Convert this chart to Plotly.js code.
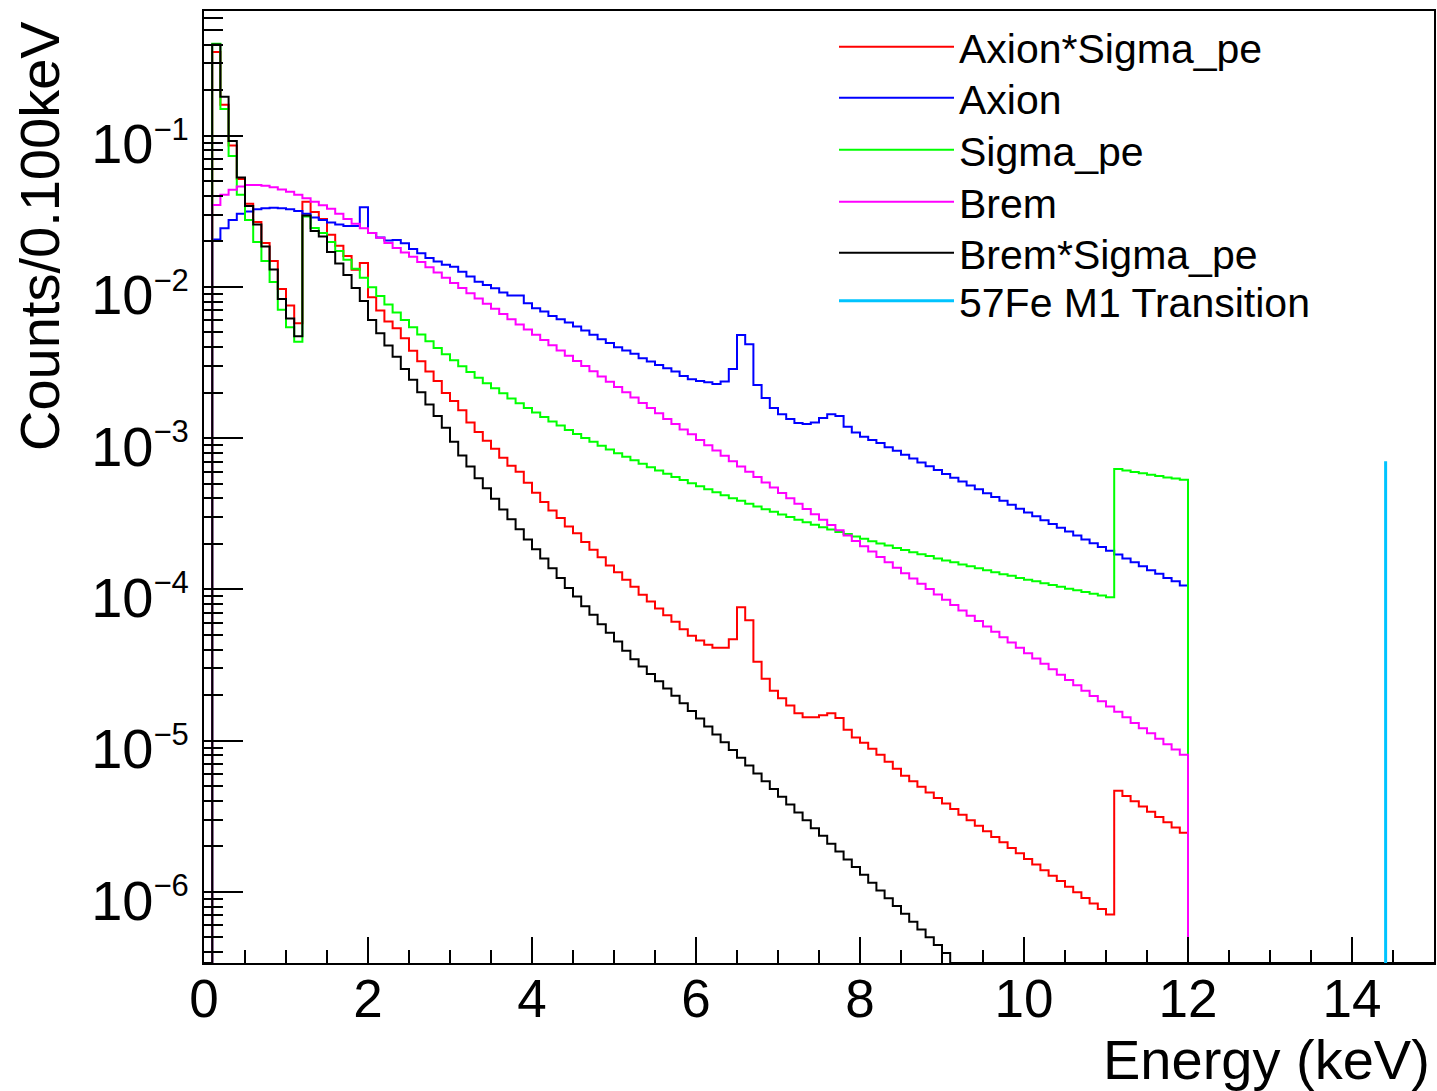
<!DOCTYPE html>
<html>
<head>
<meta charset="utf-8">
<script src="https://cdn.plot.ly/plotly-3.0.1.min.js"></script>
<style>
html,body{margin:0;padding:0;background:#ffffff;}
#chart{width:1437px;height:1091px;}
</style>
</head>
<body>
<div id="chart"></div>
<script>
// ---------------- DATA (counts per 0.1 keV bin, bins start at 0.0 keV) ----------------
const binWidthKeV = 0.1;
const nBins = 150;

const axionSigmaPe = [
 0,
 0.357, 0.160, 0.0861, 0.0517, 0.0354, 0.0269, 0.01953, 0.01485, 9.70e-3, 7.52e-3, 5.76e-3,
 3.65e-2, 3.13e-2, 2.81e-2, 2.21e-2, 1.87e-2, 1.60e-2, 1.30e-2, 1.44e-2,
 8.55e-3, 6.97e-3, 5.90e-3, 5.33e-3, 4.58e-3, 3.78e-3, 3.22e-3, 2.76e-3, 2.39e-3, 1.99e-3,
 1.76e-3, 1.53e-3, 1.27e-3, 1.10e-3, 9.60e-4, 8.50e-4, 7.41e-4, 6.56e-4, 5.99e-4, 5.07e-4,
 4.35e-4, 3.79e-4, 3.33e-4, 2.96e-4, 2.61e-4, 2.35e-4, 2.06e-4, 1.83e-4, 1.63e-4, 1.44e-4,
 1.30e-4, 1.16e-4, 1.04e-4, 9.21e-5, 8.32e-5, 7.47e-5, 6.75e-5, 6.11e-5, 5.45e-5, 4.94e-5,
 4.60e-5, 4.30e-5, 4.11e-5, 4.11e-5, 4.68e-5, 7.62e-5, 6.25e-5, 3.32e-5, 2.57e-5, 2.14e-5,
 1.91e-5, 1.71e-5, 1.52e-5, 1.43e-5, 1.43e-5, 1.47e-5, 1.52e-5, 1.41e-5, 1.18e-5, 1.05e-5,
 9.69e-6, 8.84e-6, 8.07e-6, 7.25e-6, 6.52e-6, 5.86e-6, 5.39e-6, 4.95e-6, 4.55e-6, 4.18e-6,
 3.84e-6, 3.53e-6, 3.24e-6, 2.98e-6, 2.74e-6, 2.52e-6, 2.31e-6, 2.13e-6, 1.95e-6, 1.80e-6,
 1.65e-6, 1.52e-6, 1.39e-6, 1.28e-6, 1.18e-6, 1.08e-6, 9.93e-7, 9.13e-7, 8.39e-7, 7.71e-7,
 7.08e-7, 4.67e-6, 4.31e-6, 3.98e-6, 3.67e-6, 3.39e-6, 3.13e-6, 2.89e-6, 2.67e-6, 2.46e-6,
 0,0,0,0,0,0,0,0,0,0, 0,0,0,0,0,0,0,0,0,0, 0,0,0,0,0,0,0,0,0,0
];

const axion = [
 0,
 2.06e-2, 2.44e-2, 2.77e-2, 3.04e-2, 3.15e-2, 3.26e-2, 3.31e-2, 3.33e-2, 3.31e-2, 3.26e-2,
 3.18e-2, 3.04e-2, 2.88e-2, 2.77e-2, 2.67e-2, 2.59e-2, 2.53e-2, 2.53e-2, 3.36e-2,
 2.27e-2, 2.12e-2, 2.03e-2, 2.04e-2, 1.94e-2, 1.78e-2, 1.67e-2, 1.55e-2, 1.47e-2, 1.40e-2,
 1.36e-2, 1.26e-2, 1.17e-2, 1.08e-2, 1.03e-2, 9.80e-3, 9.17e-3, 8.76e-3, 8.76e-3, 7.80e-3,
 7.23e-3, 6.87e-3, 6.43e-3, 6.12e-3, 5.81e-3, 5.47e-3, 5.14e-3, 4.82e-3, 4.51e-3, 4.25e-3,
 3.99e-3, 3.79e-3, 3.61e-3, 3.38e-3, 3.21e-3, 3.05e-3, 2.90e-3, 2.76e-3, 2.58e-3, 2.45e-3,
 2.39e-3, 2.34e-3, 2.28e-3, 2.37e-3, 2.86e-3, 4.80e-3, 4.18e-3, 2.25e-3, 1.84e-3, 1.58e-3,
 1.44e-3, 1.34e-3, 1.26e-3, 1.24e-3, 1.27e-3, 1.36e-3, 1.44e-3, 1.40e-3, 1.19e-3, 1.09e-3,
 1.02e-3, 9.74e-4, 9.27e-4, 8.69e-4, 8.24e-4, 7.77e-4, 7.33e-4, 6.91e-4, 6.52e-4, 6.15e-4,
 5.80e-4, 5.47e-4, 5.16e-4, 4.86e-4, 4.59e-4, 4.33e-4, 4.08e-4, 3.85e-4, 3.63e-4, 3.42e-4,
 3.23e-4, 3.05e-4, 2.87e-4, 2.71e-4, 2.56e-4, 2.41e-4, 2.27e-4, 2.14e-4, 2.02e-4, 1.91e-4,
 1.80e-4, 1.70e-4, 1.60e-4, 1.51e-4, 1.42e-4, 1.34e-4, 1.27e-4, 1.19e-4, 1.13e-4, 1.06e-4,
 0,0,0,0,0,0,0,0,0,0, 0,0,0,0,0,0,0,0,0,0, 0,0,0,0,0,0,0,0,0,0
];

const sigmaPe = [
 0,
 0.405, 0.150, 0.0734, 0.0406, 0.0277, 0.0198, 0.01485, 0.01079, 7.05e-3, 5.40e-3, 4.33e-3,
 2.92e-2, 2.45e-2, 2.27e-2, 1.98e-2, 1.73e-2, 1.51e-2, 1.32e-2, 1.15e-2,
 9.94e-3, 8.70e-3, 7.66e-3, 6.78e-3, 6.04e-3, 5.40e-3, 4.84e-3, 4.37e-3, 3.95e-3, 3.59e-3,
 3.27e-3, 2.99e-3, 2.74e-3, 2.51e-3, 2.31e-3, 2.14e-3, 1.98e-3, 1.83e-3, 1.70e-3, 1.58e-3,
 1.48e-3, 1.38e-3, 1.29e-3, 1.21e-3, 1.13e-3, 1.066e-3, 1.003e-3, 9.45e-4, 8.92e-4, 8.42e-4,
 7.96e-4, 7.54e-4, 7.14e-4, 6.77e-4, 6.43e-4, 6.11e-4, 5.81e-4, 5.54e-4, 5.28e-4, 5.03e-4,
 4.80e-4, 4.59e-4, 4.38e-4, 4.19e-4, 4.01e-4, 3.85e-4, 3.68e-4, 3.53e-4, 3.39e-4, 3.26e-4,
 3.13e-4, 3.01e-4, 2.89e-4, 2.78e-4, 2.68e-4, 2.58e-4, 2.49e-4, 2.40e-4, 2.32e-4, 2.24e-4,
 2.16e-4, 2.08e-4, 2.01e-4, 1.95e-4, 1.88e-4, 1.82e-4, 1.76e-4, 1.71e-4, 1.66e-4, 1.60e-4,
 1.55e-4, 1.51e-4, 1.46e-4, 1.42e-4, 1.38e-4, 1.34e-4, 1.30e-4, 1.26e-4, 1.23e-4, 1.19e-4,
 1.16e-4, 1.13e-4, 1.10e-4, 1.07e-4, 1.04e-4, 1.01e-4, 9.86e-5, 9.60e-5, 9.36e-5, 9.12e-5,
 8.89e-5, 6.24e-4, 6.10e-4, 5.97e-4, 5.85e-4, 5.72e-4, 5.61e-4, 5.50e-4, 5.40e-4, 5.30e-4,
 0,0,0,0,0,0,0,0,0,0, 0,0,0,0,0,0,0,0,0,0, 0,0,0,0,0,0,0,0,0,0
];

const brem = [
 0,
 3.48e-2, 4.06e-2, 4.38e-2, 4.61e-2, 4.72e-2, 4.72e-2, 4.66e-2, 4.55e-2, 4.41e-2, 4.25e-2,
 4.06e-2, 3.85e-2, 3.65e-2, 3.46e-2, 3.28e-2, 3.04e-2, 2.81e-2, 2.61e-2, 2.44e-2, 2.27e-2,
 2.11e-2, 1.95e-2, 1.81e-2, 1.69e-2,
 1.58e-2, 1.46e-2, 1.35e-2, 1.245e-2, 1.15e-2, 1.06e-2, 9.82e-3, 9.07e-3, 8.38e-3, 7.75e-3,
 7.16e-3, 6.61e-3, 6.11e-3, 5.65e-3, 5.22e-3, 4.82e-3, 4.45e-3, 4.11e-3, 3.80e-3, 3.51e-3,
 3.24e-3, 3.00e-3, 2.77e-3, 2.56e-3, 2.36e-3, 2.18e-3,
 2.01e-3, 1.86e-3, 1.71e-3, 1.58e-3, 1.46e-3, 1.34e-3, 1.24e-3, 1.14e-3, 1.06e-3, 9.73e-4,
 8.97e-4, 8.28e-4, 7.64e-4, 7.04e-4, 6.50e-4, 5.99e-4, 5.53e-4, 5.10e-4, 4.71e-4, 4.34e-4, 4.00e-4, 3.69e-4,
 3.40e-4, 3.14e-4, 2.89e-4, 2.67e-4, 2.46e-4, 2.27e-4, 2.09e-4, 1.93e-4, 1.78e-4, 1.64e-4, 1.51e-4, 1.39e-4,
 1.28e-4, 1.18e-4, 1.09e-4, 1.005e-4, 9.27e-5, 8.54e-5, 7.88e-5, 7.26e-5, 6.69e-5, 6.17e-5, 5.69e-5, 5.24e-5,
 4.83e-5, 4.46e-5, 4.11e-5, 3.79e-5, 3.49e-5, 3.22e-5, 2.97e-5, 2.73e-5, 2.52e-5, 2.32e-5, 2.14e-5, 1.97e-5,
 1.82e-5, 1.68e-5, 1.55e-5, 1.43e-5, 1.31e-5, 1.21e-5, 1.12e-5, 1.03e-5, 9.48e-6, 8.74e-6, 8.06e-6,
 0,0,0,0,0,0,0,0,0,0, 0,0,0,0,0,0,0,0,0,0, 0,0,0,0,0,0,0,0,0,0
];

const bremSigmaPe = [
 0,
 0.400, 0.181, 0.0923, 0.0528, 0.0343, 0.0259, 0.01852, 0.01305, 8.33e-3, 6.19e-3, 4.71e-3,
 2.97e-2, 2.34e-2, 2.15e-2, 1.70e-2, 1.43e-2, 1.20e-2, 9.85e-3, 8.08e-3,
 6.05e-3, 4.94e-3, 4.10e-3, 3.45e-3, 2.87e-3, 2.43e-3, 2.01e-3, 1.67e-3, 1.40e-3, 1.17e-3,
 9.45e-4, 7.69e-4, 6.49e-4, 5.44e-4, 4.67e-4, 3.97e-4, 3.38e-4, 2.91e-4, 2.50e-4, 2.14e-4,
 1.84e-4, 1.60e-4, 1.38e-4, 1.19e-4, 1.02e-4, 8.98e-5, 7.73e-5, 6.79e-5, 5.88e-5, 5.16e-5,
 4.52e-5, 3.93e-5, 3.45e-5, 3.09e-5, 2.76e-5, 2.47e-5, 2.21e-5, 1.98e-5, 1.77e-5,
 1.57e-5, 1.40e-5, 1.24e-5, 1.10e-5, 9.77e-6, 8.68e-6, 7.70e-6, 6.84e-6, 6.07e-6, 5.39e-6, 4.79e-6, 4.25e-6,
 3.78e-6, 3.35e-6, 2.98e-6, 2.64e-6, 2.35e-6, 2.08e-6, 1.85e-6, 1.64e-6, 1.46e-6, 1.30e-6, 1.15e-6, 1.02e-6,
 9.08e-7, 8.06e-7, 7.16e-7, 6.35e-7, 5.64e-7, 5.01e-7, 4.45e-7, 3.95e-7,
 0,0,0,0,0,0,0,0,0, 0,0,0,0,0,0,0,0,0,0, 0,0,0,0,0,0,0,0,0,0,
 0,0,0,0,0,0,0,0,0,0, 0,0,0,0,0,0,0,0,0,0, 0,0,0,0,0,0,0,0,0,0
];

const fe57LineEnergy = [14.41];
const fe57LineCounts = [7.03e-4];

const seriesNames = ['Axion*Sigma_pe', 'Axion', 'Sigma_pe', 'Brem', 'Brem*Sigma_pe', '57Fe M1 Transition'];

const yTickValues = [1e-6, 1e-5, 1e-4, 1e-3, 1e-2, 1e-1];
const yTickLabels = ['10<sup>−6</sup>', '10<sup>−5</sup>', '10<sup>−4</sup>', '10<sup>−3</sup>', '10<sup>−2</sup>', '10<sup>−1</sup>'];

// ---------------- RENDERING ----------------
const yRangeLog = [-6.47, -0.176];
const yFloor = Math.pow(10, yRangeLog[0]);
const binEdges = [];
for (let i = 0; i <= nBins; i++) binEdges.push(Math.round(i * binWidthKeV * 10) / 10);

function histTrace(name, values, color, width, legendId) {
  const x = [], y = [];
  for (let i = 0; i < values.length; i++) {
    x.push(binEdges[i]);
    y.push(values[i] > yFloor ? values[i] : yFloor);
  }
  x.push(binEdges[values.length]);
  y.push(y[y.length - 1]);
  return {
    type: 'scatter', mode: 'lines', name: name, x: x, y: y, legend: legendId,
    line: {color: color, width: width, shape: 'hv'},
    hoverinfo: 'skip'
  };
}

const traces = [
  histTrace(seriesNames[0], axionSigmaPe, '#ff0000', 2, 'legend'),
  histTrace(seriesNames[1], axion, '#0000ff', 2, 'legend2'),
  histTrace(seriesNames[2], sigmaPe, '#00ff00', 2, 'legend3'),
  histTrace(seriesNames[3], brem, '#ff00ff', 2, 'legend4'),
  histTrace(seriesNames[4], bremSigmaPe, '#000000', 2, 'legend5'),
  {
    type: 'scatter', mode: 'lines', name: seriesNames[5], legend: 'legend6',
    x: [fe57LineEnergy[0], fe57LineEnergy[0]],
    y: [yFloor, fe57LineCounts[0]],
    line: {color: '#00c4ff', width: 3}, hoverinfo: 'skip'
  }
];

const FONT = 'Liberation Sans, Arial, Helvetica, sans-serif';

// smaller exponent, like the ROOT rendering
const yTickText = yTickLabels.map(function (t) {
  return t.replace('<sup>', '<sup><span style="font-size:31px">').replace('</sup>', '</span></sup>');
});

// plot area in pixels: left 204, right 1434, top 11, bottom 963
function legendBox(rowCenterPx) {
  return {
    x: (834 - 204) / 1230, xanchor: 'left',
    y: (963 - rowCenterPx) / 952, yanchor: 'middle',
    bgcolor: 'rgba(0,0,0,0)', borderwidth: 0,
    font: {family: FONT, size: 41, color: '#000000'},
    itemwidth: 115, tracegroupgap: 0
  };
}

const layout = {
  width: 1437, height: 1091,
  margin: {l: 204, r: 3, t: 11, b: 128, pad: 0},
  paper_bgcolor: '#ffffff', plot_bgcolor: '#ffffff',
  hovermode: false,
  showlegend: true,
  legend: legendBox(47),
  legend2: legendBox(98),
  legend3: legendBox(150),
  legend4: legendBox(202),
  legend5: legendBox(253),
  legend6: legendBox(301),
  xaxis: {
    type: 'linear', range: [0, 15], autorange: false,
    showgrid: false, zeroline: false,
    showline: true, linecolor: '#000000', linewidth: 2, mirror: true,
    ticks: 'inside', ticklen: 26, tickwidth: 2, tickcolor: '#000000',
    tick0: 0, dtick: 2,
    minor: {ticks: 'inside', ticklen: 13, tickwidth: 2, tickcolor: '#000000', dtick: 0.5, showgrid: false},
    tickfont: {family: FONT, size: 53, color: '#000000'},
    ticklabelstandoff: -12
  },
  yaxis: {
    type: 'log', range: yRangeLog, autorange: false,
    showgrid: false, zeroline: false,
    showline: true, linecolor: '#000000', linewidth: 2, mirror: true,
    ticks: 'inside', ticklen: 39, tickwidth: 2, tickcolor: '#000000',
    tickmode: 'array', tickvals: yTickValues, ticktext: yTickText,
    minor: {ticks: 'inside', ticklen: 19, tickwidth: 2, tickcolor: '#000000', dtick: 'D1', showgrid: false},
    tickfont: {family: FONT, size: 56, color: '#000000'},
    ticklabelstandoff: 2,
    ticklabelshift: 8
  },
  annotations: [
    {
      text: 'Counts/0.100keV', textangle: -90, showarrow: false,
      xref: 'paper', yref: 'paper',
      x: (40 - 204) / 1230, xanchor: 'center',
      y: (963 - 19) / 952, yanchor: 'top',
      font: {family: FONT, size: 56, color: '#000000'}
    },
    {
      text: 'Energy (keV)', showarrow: false,
      xref: 'paper', yref: 'paper',
      x: (1432 - 204) / 1230, xanchor: 'right',
      y: (963 - 1059) / 952, yanchor: 'middle',
      font: {family: FONT, size: 56, color: '#000000'}
    }
  ]
};

Plotly.newPlot('chart', traces, layout, {staticPlot: true, displayModeBar: false});
</script>
</body>
</html>
